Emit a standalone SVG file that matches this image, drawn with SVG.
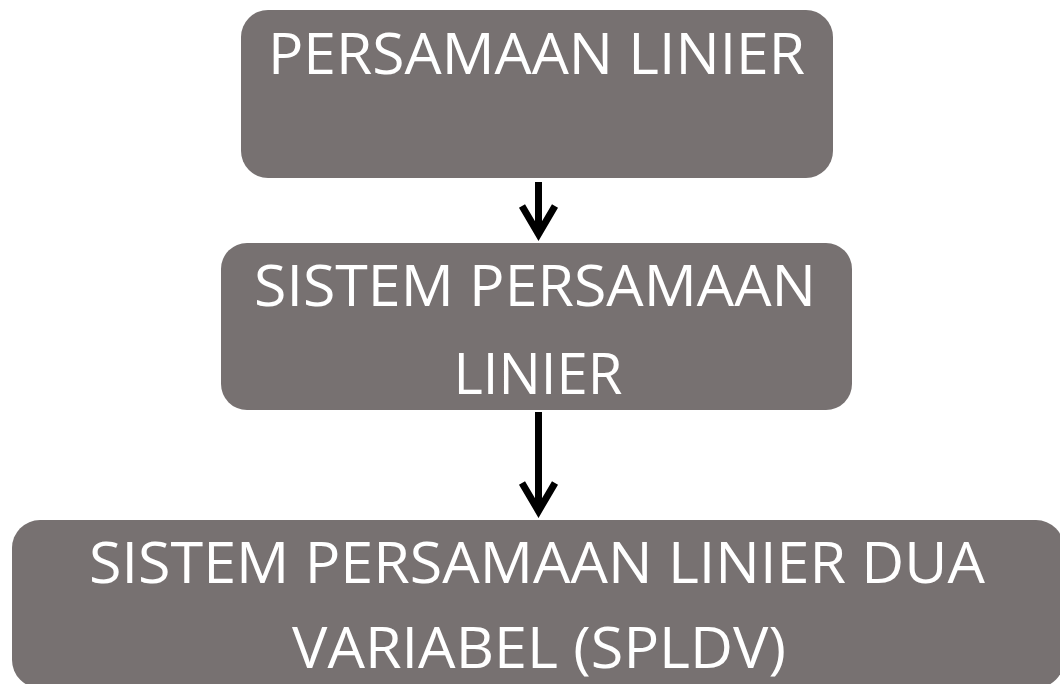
<svg xmlns="http://www.w3.org/2000/svg" width="1060" height="684" viewBox="0 0 1060 684">
  <style>
    .box { fill: #777171; }
    .lbl { fill: #ffffff; font-family: "Open Sans", "Liberation Sans", sans-serif; font-size: 57px; text-anchor: middle; }
    .conn { fill: none; stroke: #000000; stroke-width: 7; stroke-linejoin: miter; stroke-miterlimit: 10; }
  </style>
  <rect width="1060" height="684" fill="#ffffff"/>
  <g id="connectors">
    <path class="conn" d="M538.5 182 V234 M522 206 L538.5 234 L555 206"/>
    <path class="conn" d="M538.5 412 V511 M522 483 L538.5 511 L555 483"/>
  </g>
  <g id="node-persamaan-linier">
    <rect class="box" x="241" y="10" width="592" height="168" rx="27"/>
    <text class="lbl" x="536.5" y="74" textLength="537" lengthAdjust="spacingAndGlyphs">PERSAMAAN LINIER</text>
  </g>
  <g id="node-sistem-persamaan-linier">
    <rect class="box" x="221" y="243" width="631" height="167" rx="26"/>
    <text class="lbl" x="535" y="306" textLength="562" lengthAdjust="spacingAndGlyphs">SISTEM PERSAMAAN</text>
    <text class="lbl" x="538" y="394" textLength="169" lengthAdjust="spacingAndGlyphs">LINIER</text>
  </g>
  <g id="node-spldv">
    <rect class="box" x="12" y="520" width="1052" height="168" rx="28"/>
    <text class="lbl" x="537" y="583" textLength="896" lengthAdjust="spacingAndGlyphs">SISTEM PERSAMAAN LINIER DUA</text>
    <text class="lbl" x="539" y="668" textLength="494" lengthAdjust="spacingAndGlyphs">VARIABEL (SPLDV)</text>
  </g>
</svg>
